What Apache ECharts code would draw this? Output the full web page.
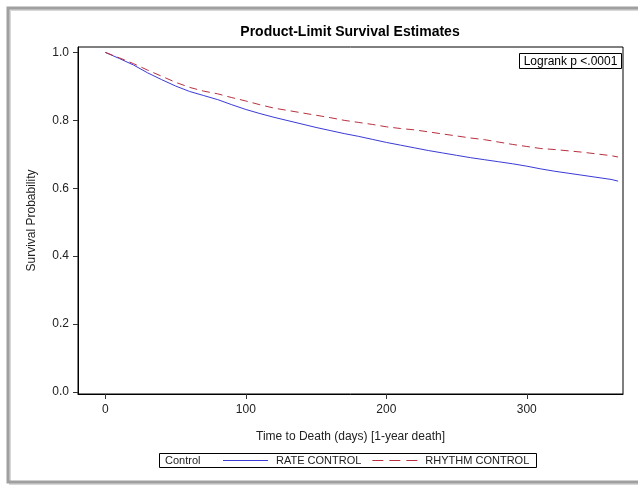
<!DOCTYPE html>
<html>
<head>
<meta charset="utf-8">
<script src="https://cdn.jsdelivr.net/npm/echarts@6/dist/echarts.min.js"></script>
<style>
  html, body { margin: 0; padding: 0; background: #fff; }
  #chart { width: 638px; height: 489px; }
</style>
</head>
<body>
<div id="chart"></div>
<script>
// days on the x axis
const days = [0, 10, 20, 30, 40, 50, 60, 70, 80, 90, 100, 110, 120, 130, 140, 150, 160, 170, 180,
  190, 200, 210, 220, 230, 240, 250, 260, 270, 280, 290, 300, 310, 320, 330, 340, 350, 360, 365]
// survival estimates
const rateControl = [1.0, 0.982, 0.963, 0.940, 0.920, 0.901, 0.885, 0.873, 0.861, 0.846, 0.832,
  0.820, 0.809, 0.799, 0.789, 0.779, 0.770, 0.761, 0.753, 0.744, 0.735, 0.727, 0.719, 0.711,
  0.704, 0.697, 0.690, 0.684, 0.678, 0.672, 0.665, 0.657, 0.650, 0.644, 0.638, 0.632, 0.626, 0.621]
const rhythmControl = [1.0, 0.984, 0.967, 0.948, 0.930, 0.912, 0.897, 0.886, 0.878, 0.867, 0.857,
  0.846, 0.836, 0.829, 0.822, 0.815, 0.808, 0.800, 0.794, 0.788, 0.781, 0.776, 0.772, 0.766,
  0.760, 0.754, 0.748, 0.743, 0.736, 0.729, 0.723, 0.717, 0.714, 0.710, 0.706, 0.701, 0.696, 0.692]
const xTicks = [0, 100, 200, 300]
const yTicks = [0, 0.2, 0.4, 0.6, 0.8, 1.0]

const font = 'Liberation Sans, Arial, sans-serif'
const textColor = '#222'
const blue = '#3a3ad8'
const red = '#b8303f'

const toPairs = (ys) => days.map((d, i) => [d, ys[i]])

const chart = echarts.init(document.getElementById('chart'))
const option = {
  backgroundColor: '#fff',
  animation: false,
  textStyle: { fontFamily: font },
  grid: {
    left: 78, right: 15, top: 47, bottom: 95,
    show: true, borderColor: '#000', borderWidth: 1
  },
  xAxis: {
    type: 'value',
    min: -19.5, max: 368.5,
    name: 'Time to Death (days) [1-year death]',
    nameLocation: 'middle',
    nameGap: 37,
    nameTextStyle: { fontSize: 12, color: textColor, fontFamily: font },
    axisLine: { show: true, onZero: false, lineStyle: { color: '#000' } },
    axisTick: { show: true, length: 5, customValues: xTicks, lineStyle: { color: '#333' } },
    axisLabel: { customValues: xTicks, fontSize: 12, color: textColor, margin: 10, fontFamily: font },
    splitLine: { show: false }
  },
  yAxis: {
    type: 'value',
    min: -0.006, max: 1.016,
    name: 'Survival Probability',
    nameLocation: 'middle',
    nameGap: 40,
    nameTextStyle: { fontSize: 12, color: textColor, fontFamily: font },
    axisLine: { show: true, onZero: false, lineStyle: { color: '#000' } },
    axisTick: { show: true, length: 5, customValues: yTicks, lineStyle: { color: '#333' } },
    axisLabel: {
      customValues: yTicks, fontSize: 12, color: textColor, margin: 9, fontFamily: font,
      formatter: (v) => v.toFixed(1)
    },
    splitLine: { show: false }
  },
  legend: {
    left: 223, top: 455, padding: 0,
    itemWidth: 45, itemHeight: 1, itemGap: 11,
    textStyle: { fontSize: 11, color: textColor, fontFamily: font, padding: [0, 0, 0, 3] },
    data: [
      { name: 'RATE CONTROL', icon: 'rect' },
      { name: 'RHYTHM CONTROL', icon: 'path://M0,0h11v1h-11zM17,0h11v1h-11zM34,0h11v1h-11z' }
    ]
  },
  graphic: [
    // outer frame
    { type: 'rect', shape: { x: 10, y: 10, width: 660, height: 474 }, style: { fill: 'none', stroke: '#d8d8d8', lineWidth: 2 }, silent: true },
    { type: 'rect', shape: { x: 8, y: 8, width: 660, height: 474 }, style: { fill: 'none', stroke: '#a0a0a0', lineWidth: 3 }, silent: true },
    // title
    { type: 'text', x: 350, y: 32, style: { text: 'Product-Limit Survival Estimates', font: 'bold 14px ' + font, fill: '#000', textAlign: 'center', textVerticalAlign: 'middle' } },
    // logrank box
    { type: 'rect', shape: { x: 519.5, y: 53.5, width: 102, height: 15 }, style: { fill: '#fff', stroke: '#000', lineWidth: 1 } },
    { type: 'text', x: 570.5, y: 61.5, style: { text: 'Logrank p <.0001', font: '12px ' + font, fill: '#000', textAlign: 'center', textVerticalAlign: 'middle' } },
    // legend frame
    { type: 'rect', shape: { x: 159.5, y: 453.5, width: 377, height: 14 }, style: { fill: 'none', stroke: '#000', lineWidth: 1 } },
    { type: 'text', x: 165, y: 461, style: { text: 'Control', font: '11px ' + font, fill: textColor, textVerticalAlign: 'middle' } }
  ],
  series: [
    {
      name: 'RATE CONTROL',
      type: 'line',
      symbol: 'none',
      data: toPairs(rateControl),
      lineStyle: { color: blue, width: 1 },
      itemStyle: { color: blue }
    },
    {
      name: 'RHYTHM CONTROL',
      type: 'line',
      symbol: 'none',
      data: toPairs(rhythmControl),
      lineStyle: { color: red, width: 1, type: [8, 5] },
      itemStyle: { color: red }
    }
  ]
}
chart.setOption(option)
</script>
</body>
</html>
